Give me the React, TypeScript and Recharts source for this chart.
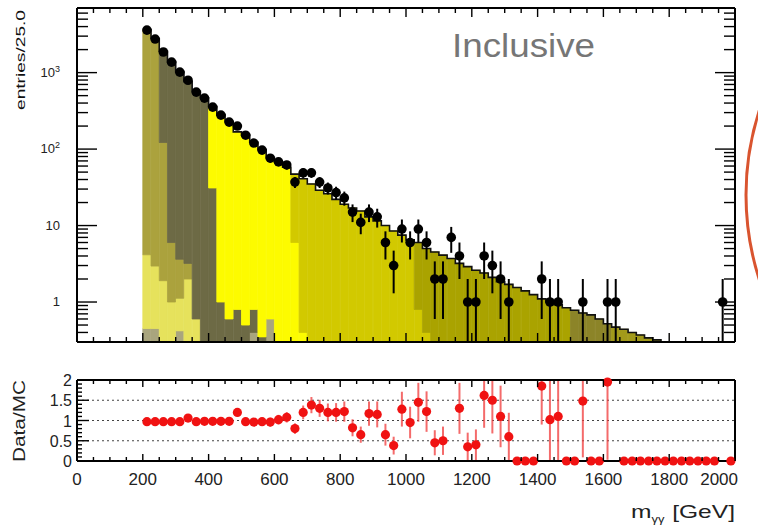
import React from 'react';
import { ComposedChart, Bar, Line, Scatter, XAxis, YAxis, ErrorBar, ReferenceLine } from 'recharts';

const FONT = '"Liberation Sans", Arial, Helvetica, sans-serif';

// 25 GeV bins, 200 - 2000 GeV (bin centres)
const binCenters = [
  212.5, 237.5, 262.5, 287.5, 312.5, 337.5, 362.5, 387.5, 412.5, 437.5, 462.5, 487.5,
  512.5, 537.5, 562.5, 587.5, 612.5, 637.5, 662.5, 687.5, 712.5, 737.5, 762.5, 787.5,
  812.5, 837.5, 862.5, 887.5, 912.5, 937.5, 962.5, 987.5, 1012.5, 1037.5, 1062.5, 1087.5,
  1112.5, 1137.5, 1162.5, 1187.5, 1212.5, 1237.5, 1262.5, 1287.5, 1312.5, 1337.5, 1362.5, 1387.5,
  1412.5, 1437.5, 1462.5, 1487.5, 1512.5, 1537.5, 1562.5, 1587.5, 1612.5, 1637.5, 1662.5, 1687.5,
  1712.5, 1737.5, 1762.5, 1787.5, 1812.5, 1837.5, 1862.5, 1887.5, 1912.5, 1937.5, 1962.5, 1987.5,
];

// MC stack, bottom layer first
const mcGray = [
  0.45, 0.45, 0, 0, 0.42, 0, 0, 0, 0, 0, 0, 0,
  0, 0.4, 0, 0.6, 0, 0, 0, 0, 0, 0, 0, 0,
  0, 0, 0, 0, 0, 0, 0, 0, 0, 0, 0, 0,
  0, 0, 0, 0, 0, 0, 0, 0, 0, 0, 0, 0,
  0, 0, 0, 0, 0, 0, 0, 0, 0, 0, 0, 0,
  0, 0, 0, 0, 0, 0, 0, 0, 0, 0, 0, 0,
];
const mcLight = [
  3.7, 2.5, 1.9, 1.0, 0.7, 2.0, 0.6, 0.2, 0, 0, 0, 0,
  0, 0, 0, 0, 0, 0, 0, 0, 0, 0, 0, 0,
  0, 0, 0, 0, 0, 0, 0, 0, 0, 0, 0, 0,
  0, 0, 0, 0, 0, 0, 0, 0, 0, 0, 0, 0,
  0, 0, 0, 0, 0, 0, 0, 0, 0, 0, 0, 0,
  0, 0, 0, 0, 0, 0, 0, 0, 0, 0, 0, 0,
];
const mc200 = [
  3645, 2797, 120, 5, 2.5, 1.2, 0, 0, 0, 0, 0, 0,
  0, 0, 0, 0, 0, 0, 0, 0, 0, 0, 0, 0,
  0, 0, 0, 0, 0, 0, 0, 0, 0, 0, 0, 0,
  0, 0, 0, 0, 0, 0, 0, 0, 0, 0, 0, 0,
  0, 0, 0, 0, 0, 0, 0, 0, 0, 0, 0, 0,
  0, 0, 0, 0, 0, 0, 0, 0, 0, 0, 0, 0,
];
const mc250 = [
  0, 0, 1778, 1394, 1026, 757, 569, 470, 31, 1.0, 0.6, 0.8,
  0.5, 0.4, 0.35, 0, 0, 0, 0, 0, 0, 0, 0, 0,
  0, 0, 0, 0, 0, 0, 0, 0, 0, 0, 0, 0,
  0, 0, 0, 0, 0, 0, 0, 0, 0, 0, 0, 0,
  0, 0, 0, 0, 0, 0, 0, 0, 0, 0, 0, 0,
  0, 0, 0, 0, 0, 0, 0, 0, 0, 0, 0, 0,
];
const mc400 = [
  0, 0, 0, 0, 0, 0, 0, 0, 329, 281, 229, 167,
  154, 122, 98, 77, 68, 58, 6, 0.4, 0, 0, 0, 0,
  0, 0, 0, 0, 0, 0, 0, 0, 0, 0, 0, 0,
  0, 0, 0, 0, 0, 0, 0, 0, 0, 0, 0, 0,
  0, 0, 0, 0, 0, 0, 0, 0, 0, 0, 0, 0,
  0, 0, 0, 0, 0, 0, 0, 0, 0, 0, 0, 0,
];
const mc675 = [
  0, 0, 0, 0, 0, 0, 0, 0, 0, 0, 0, 0,
  0, 0, 0, 0, 0, 0, 41, 40.6, 35, 29, 26, 22,
  19, 17, 15.5, 13, 11.5, 10, 8.5, 7.5, 6.5, 0.8, 0.4, 0.2,
  0, 0, 0, 0, 0, 0, 0, 0, 0, 0, 0, 0,
  0, 0, 0, 0, 0, 0, 0, 0, 0, 0, 0, 0,
  0, 0, 0, 0, 0, 0, 0, 0, 0, 0, 0, 0,
];
const mc1025 = [
  0, 0, 0, 0, 0, 0, 0, 0, 0, 0, 0, 0,
  0, 0, 0, 0, 0, 0, 0, 0, 0, 0, 0, 0,
  0, 0, 0, 0, 0, 0, 0, 0, 0, 5.2, 4.6, 4.3,
  4.1, 3.7, 3.2, 2.9, 2.6, 2.4, 2.1, 1.85, 1.7, 1.55, 1.4, 1.25,
  1.1, 1.0, 0.92, 0.84, 0.05, 0, 0, 0, 0, 0, 0, 0,
  0, 0, 0, 0, 0, 0, 0, 0, 0, 0, 0, 0,
];
const mc1500 = [
  0, 0, 0, 0, 0, 0, 0, 0, 0, 0, 0, 0,
  0, 0, 0, 0, 0, 0, 0, 0, 0, 0, 0, 0,
  0, 0, 0, 0, 0, 0, 0, 0, 0, 0, 0, 0,
  0, 0, 0, 0, 0, 0, 0, 0, 0, 0, 0, 0,
  0, 0, 0, 0, 0.73, 0.72, 0.68, 0.6, 0.52, 0, 0, 0,
  0, 0, 0, 0, 0, 0, 0, 0, 0, 0, 0, 0,
];
const mc1625 = [
  0, 0, 0, 0, 0, 0, 0, 0, 0, 0, 0, 0,
  0, 0, 0, 0, 0, 0, 0, 0, 0, 0, 0, 0,
  0, 0, 0, 0, 0, 0, 0, 0, 0, 0, 0, 0,
  0, 0, 0, 0, 0, 0, 0, 0, 0, 0, 0, 0,
  0, 0, 0, 0, 0, 0, 0, 0, 0, 0.47, 0.44, 0.4,
  0.37, 0.34, 0.32, 0.3, 0.28, 0.26, 0.24, 0.22, 0.2, 0.18, 0.17, 0.15,
];

// data
const dataCounts = [
  3600, 2750, 1860, 1370, 1015, 795, 555, 464, 354, 278, 225, 200,
  152, 120, 97, 76, 68, 62, 37, 49, 49, 37, 31, 27,
  23, 15, 11, 15, 13, 6, 3, 9, 6, 9, 6, 2,
  2, 7, 4, 1, 1, 4, 3, 2, 1, 0, 0, 0,
  2, 1, 1, 0, 0, 1, 0, 0, 1, 1, 0, 0,
  0, 0, 0, 0, 0, 0, 0, 0, 0, 0, 1, 0,
];
const dataErr: (number | number[])[] = [
  60, 52, 43, 37, 32, 28, 24, 22, 19, 17, 15, 14,
  12, 11, 10, 9, 8, 8, 6, 7, 7, 6, 5.5, 5.2,
  4.8, 3.9, 3.3, 3.9, 3.6, 2.4, 1.7, 3, 2.4, 3, 2.4, 1.4,
  1.4, 2.6, 2, [0.7, 1], [0.7, 1], 2, 1.7, 1.4, [0.7, 1], 0, 0, 0,
  1.4, [0.7, 1], [0.7, 1], 0, 0, [0.7, 1], 0, 0, [0.7, 1], [0.7, 1], 0, 0,
  0, 0, 0, 0, 0, 0, 0, 0, 0, 0, [0.7, 1], 0,
];

// Data/MC
const ratioValues: (number | null)[] = [
  0.97, 0.97, 0.97, 0.97, 0.97, 1.06, 0.97, 0.98, 0.98, 0.98, 0.98, 1.2,
  0.97, 0.96, 0.97, 0.96, 1.02, 1.08, 0.8, 1.2, 1.38, 1.3, 1.2, 1.2,
  1.22, 0.82, 0.65, 1.17, 1.15, 0.65, 0.38, 1.28, 0.95, 1.45, 1.22, 0.45,
  0.5, null, 1.3, 0.35, 0.4, 1.62, 1.5, 1.1, 0.6, 0, 0, 0,
  1.85, 1.02, 1.1, 0, 0, 1.48, 0, 0, 1.95, null, 0, 0,
  0, 0, 0, 0, 0, 0, 0, 0, 0, 0, null, 0,
];
const ratioErr: (number | number[])[] = [
  0.03, 0.03, 0.03, 0.03, 0.04, 0.04, 0.05, 0.05, 0.06, 0.06, 0.07, 0.08,
  0.08, 0.09, 0.1, 0.11, 0.12, 0.13, 0.13, 0.17, 0.2, 0.21, 0.22, 0.23,
  0.25, 0.21, 0.2, 0.3, 0.32, 0.27, 0.22, 0.43, 0.39, 0.48, 0.5, 0.31,
  0.35, 0, 0.63, 0.35, 0.38, [0.8, 0.38], [0.82, 0.5], 0.76, 0.59, 0, 0, 0,
  [0.95, 0.15], [1.0, 0.98], [1.08, 0.9], 0, 0, [1.39, 0.52], 0, 0, [1.92, 0.05], 0, 0, 0,
  0, 0, 0, 0, 0, 0, 0, 0, 0, 0, 0, 0,
];

// axis ticks (major ones carry labels)
const xTicks = [
  0, 50, 100, 150, 200, 250, 300, 350, 400, 450, 500, 550, 600, 650, 700, 750, 800, 850, 900, 950,
  1000, 1050, 1100, 1150, 1200, 1250, 1300, 1350, 1400, 1450, 1500, 1550, 1600, 1650, 1700, 1750,
  1800, 1850, 1900, 1950, 2000,
];
const xLabels = [0, 200, 400, 600, 800, 1000, 1200, 1400, 1600, 1800, 2000];
const logTicks = [
  0.3, 0.4, 0.5, 0.6, 0.7, 0.8, 0.9, 1, 2, 3, 4, 5, 6, 7, 8, 9,
  10, 20, 30, 40, 50, 60, 70, 80, 90, 100, 200, 300, 400, 500, 600, 700, 800, 900,
  1000, 2000, 3000, 4000, 5000, 6000, 7000,
];
const logMajor = [1, 10, 100, 1000];
const logMajorBase = ['1', '10', '10', '10'];
const logMajorExp = ['', '', '2', '3'];
const ratioTicks = [
  0, 0.1, 0.2, 0.3, 0.4, 0.5, 0.6, 0.7, 0.8, 0.9, 1, 1.1, 1.2, 1.3, 1.4, 1.5, 1.6, 1.7, 1.8, 1.9, 2,
];
const ratioLabels = [0, 0.5, 1, 1.5, 2];
const ratioGrid = [0.5, 1, 1.5];

const LAYERS = [
  { key: 'gray', values: mcGray, color: '#a9a57e' },
  { key: 'light', values: mcLight, color: '#e6e25c' },
  { key: 's200', values: mc200, color: '#aba23d' },
  { key: 's250', values: mc250, color: '#6d6a45' },
  { key: 's400', values: mc400, color: '#fdfb00' },
  { key: 's675', values: mc675, color: '#d2c900' },
  { key: 's1025', values: mc1025, color: '#aaa300' },
  { key: 's1500', values: mc1500, color: '#8c8428' },
  { key: 's1625', values: mc1625, color: '#a29a1a' },
];

const stackRows = binCenters.map((x, i) => {
  const row: any = { x };
  let total = 0;
  LAYERS.forEach((l) => {
    row[l.key] = l.values[i];
    total += l.values[i];
  });
  row.total = total;
  return row;
});

const dataPoints = binCenters
  .map((x, i) => ({ x, y: dataCounts[i], err: dataErr[i] }))
  .filter((p) => p.y > 0);

const ratioPoints = binCenters
  .map((x, i) => ({ x, y: ratioValues[i], err: ratioErr[i] }))
  .filter((p) => p.y !== null);

const AXIS = { stroke: '#000', strokeWidth: 2 };

// ROOT style ticks: short marks pointing into the frame
const Mark = ({ d }: { d: string }) => <path d={d} stroke="#000" strokeWidth={1.4} fill="none" />;

const TopPanelBottomTick = (p: any) => {
  const len = xLabels.includes(p.payload.value) ? 9 : 5;
  return <g><Mark d={`M${p.x},${p.y}v${-len}`} /></g>;
};
const TopPanelTopTick = (p: any) => {
  const len = xLabels.includes(p.payload.value) ? 9 : 5;
  return <g><Mark d={`M${p.x},${p.y}v${len}`} /></g>;
};
const LogLeftTick = (p: any) => {
  const idx = logMajor.indexOf(p.payload.value);
  const major = idx >= 0;
  return (
    <g>
      <Mark d={`M${p.x},${p.y}h${major ? 20 : 11}`} />
      {major && (
        <text x={p.x - 17} y={p.y + 4} textAnchor="end" fontSize={13} fill="#222" fontFamily={FONT}>
          {logMajorBase[idx]}
          {logMajorExp[idx] && (
            <tspan dy={-5} fontSize={9}>
              {logMajorExp[idx]}
            </tspan>
          )}
        </text>
      )}
    </g>
  );
};
const LogRightTick = (p: any) => {
  const major = logMajor.includes(p.payload.value);
  return <g><Mark d={`M${p.x},${p.y}h${major ? -20 : -11}`} /></g>;
};
const RatioBottomTick = (p: any) => {
  const v = p.payload.value;
  const major = xLabels.includes(v);
  const last = v === 2000;
  return (
    <g>
      <Mark d={`M${p.x},${p.y}v${major ? -7 : -4}`} />
      {major && (
        <text x={last ? p.x + 3 : p.x} y={p.y + 24} textAnchor={last ? 'end' : 'middle'} fontSize={17}
          fill="#222" fontFamily={FONT}>
          {v}
        </text>
      )}
    </g>
  );
};
const RatioTopTick = (p: any) => {
  const major = xLabels.includes(p.payload.value);
  return <g><Mark d={`M${p.x},${p.y}v${major ? 7 : 4}`} /></g>;
};
const RatioLeftTick = (p: any) => {
  const v = p.payload.value;
  const major = ratioLabels.includes(v);
  return (
    <g>
      <Mark d={`M${p.x},${p.y}h${major ? 12 : 5}`} />
      {major && (
        <text x={p.x - 5} y={p.y + 6} textAnchor="end" fontSize={16} fill="#222" fontFamily={FONT}>
          {v}
        </text>
      )}
    </g>
  );
};
const RatioRightTick = (p: any) => {
  const major = ratioLabels.includes(p.payload.value);
  return <g><Mark d={`M${p.x},${p.y}h${major ? -12 : -5}`} /></g>;
};

const BlackDot = (p: any) => <circle cx={p.cx} cy={p.cy} r={4.8} fill="#000" />;
const RedDot = (p: any) => <circle cx={p.cx} cy={p.cy} r={4.6} fill="#f01212" />;

const MainPanel = () => (
  <ComposedChart
    width={758}
    height={350}
    data={stackRows}
    margin={{ top: 0, right: 0, bottom: 0, left: 0 }}
    barCategoryGap={0}
    barGap={0}
  >
    <XAxis xAxisId="b" dataKey="x" type="number" domain={[0, 2000]} ticks={xTicks} interval={0}
      height={8} tickSize={0} tickMargin={0} tickLine={false} axisLine={AXIS} tick={TopPanelBottomTick} />
    <XAxis xAxisId="t" orientation="top" dataKey="x" type="number" domain={[0, 2000]} ticks={xTicks} interval={0}
      height={8} tickSize={0} tickMargin={0} tickLine={false} axisLine={AXIS} tick={TopPanelTopTick} />
    <YAxis yAxisId="l" type="number" scale="log" domain={[0.3, 7000]} allowDataOverflow ticks={logTicks} interval={0}
      width={77} tickSize={0} tickMargin={0} tickLine={false} axisLine={AXIS} tick={LogLeftTick} />
    <YAxis yAxisId="r" orientation="right" type="number" scale="log" domain={[0.3, 7000]} allowDataOverflow
      ticks={logTicks} interval={0} width={23} tickSize={0} tickMargin={0} tickLine={false} axisLine={AXIS}
      tick={LogRightTick} />
    {LAYERS.map((l) => (
      <Bar key={l.key} dataKey={l.key} stackId="mc" xAxisId="b" yAxisId="l" fill={l.color}
        stroke={l.color} strokeWidth={0.8} isAnimationActive={false} />
    ))}
    <Line dataKey="total" type="step" xAxisId="b" yAxisId="l" stroke="#111" strokeWidth={1.6}
      dot={false} activeDot={false} isAnimationActive={false} />
    <Scatter data={dataPoints} dataKey="y" xAxisId="b" yAxisId="l" shape={BlackDot} isAnimationActive={false}>
      <ErrorBar dataKey="err" direction="y" width={0} stroke="#000" strokeWidth={2} />
    </Scatter>
  </ComposedChart>
);

const RatioPanel = () => (
  <ComposedChart width={758} height={160} data={stackRows} margin={{ top: 0, right: 0, bottom: 0, left: 0 }}>
    <XAxis xAxisId="b" dataKey="x" type="number" domain={[0, 2000]} ticks={xTicks} interval={0}
      height={69} tickSize={0} tickMargin={0} tickLine={false} axisLine={AXIS} tick={RatioBottomTick} />
    <XAxis xAxisId="t" orientation="top" dataKey="x" type="number" domain={[0, 2000]} ticks={xTicks} interval={0}
      height={10} tickSize={0} tickMargin={0} tickLine={false} axisLine={AXIS} tick={RatioTopTick} />
    <YAxis yAxisId="l" type="number" domain={[0, 2]} ticks={ratioTicks} interval={0}
      width={77} tickSize={0} tickMargin={0} tickLine={false} axisLine={AXIS} tick={RatioLeftTick} />
    <YAxis yAxisId="r" orientation="right" type="number" domain={[0, 2]} ticks={ratioTicks} interval={0}
      width={23} tickSize={0} tickMargin={0} tickLine={false} axisLine={AXIS} tick={RatioRightTick} />
    {ratioGrid.map((g) => (
      <ReferenceLine key={g} y={g} xAxisId="b" yAxisId="l" stroke="#444" strokeWidth={1} strokeDasharray="2 3" />
    ))}
    <Scatter data={ratioPoints} dataKey="y" xAxisId="b" yAxisId="l" shape={RedDot} isAnimationActive={false}>
      <ErrorBar dataKey="err" direction="y" width={0} stroke="#f03a3a" strokeOpacity={0.75} strokeWidth={2} />
    </Scatter>
  </ComposedChart>
);

export default function App() {
  return (
    <div style={{ position: 'absolute', left: 0, top: 0, width: 758, height: 527, background: '#fff', overflow: 'hidden' }}>
      <div style={{ position: 'absolute', left: 0, top: 0 }}>
        <MainPanel />
      </div>
      <div style={{ position: 'absolute', left: 0, top: 370 }}>
        <RatioPanel />
      </div>
      <svg width={758} height={527} style={{ position: 'absolute', left: 0, top: 0, pointerEvents: 'none' }}
        fontFamily={FONT}>
        <text transform="translate(25,60) rotate(-90)" textAnchor="middle" fontSize={13} fill="#111"
          textLength={100} lengthAdjust="spacingAndGlyphs">entries/25.0</text>
        <text x={452} y={57} fontSize={33} fill="#767676" textLength={143} lengthAdjust="spacingAndGlyphs">Inclusive</text>
        <text transform="translate(25,421) rotate(-90)" textAnchor="middle" fontSize={16} fill="#222"
          textLength={82} lengthAdjust="spacingAndGlyphs">Data/MC</text>
        <text x={735} y={518} textAnchor="end" fontSize={19} fill="#222" textLength={104}
          lengthAdjust="spacingAndGlyphs">
          m<tspan fontSize={10} dy={5}>γγ</tspan><tspan dy={-5} dx={6}>[GeV]</tspan>
        </text>
        <circle cx={1021} cy={195} r={275} fill="none" stroke="#d9542f" strokeWidth={3} />
      </svg>
    </div>
  );
}
